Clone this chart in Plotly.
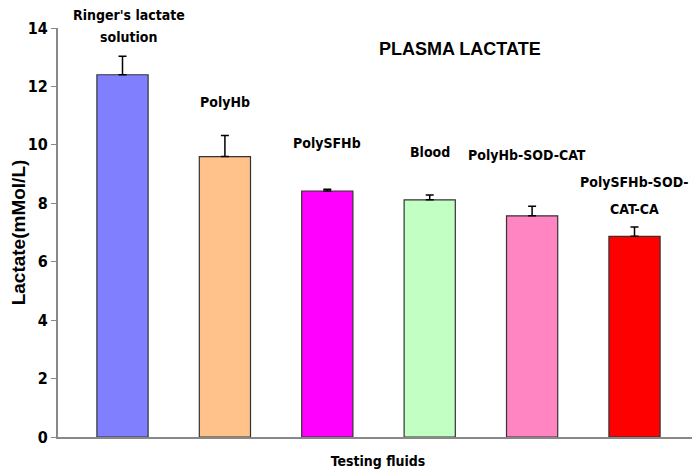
import plotly.graph_objects as go

# bar data
fluids = ["Ringer's lactate solution", "PolyHb", "PolySFHb", "Blood",
          "PolyHb-SOD-CAT", "PolySFHb-SOD-CAT-CA"]
lactate = [12.4, 9.6, 8.42, 8.12, 7.57, 6.87]
err_up = [0.63, 0.72, 0.06, 0.16, 0.33, 0.32]
colors = ["#8080FF", "#FFC28A", "#FF00FF", "#C2FFC2", "#FF85C2", "#FF0000"]

# bar labels as they are broken into lines on the chart: (bar index, text)
label_lines = [(0, "Ringer's lactate"), (0, "solution"), (1, "PolyHb"),
               (2, "PolySFHb"), (3, "Blood"), (4, "PolyHb-SOD-CAT"),
               (5, "PolySFHb-SOD-"), (5, "CAT-CA")]
label_y = [14.45, 13.69, 11.47, 10.07, 9.76, 9.65, 8.73, 7.81]  # in mMol/L
label_xshift = [6, 6, 0, 0, 0, -5, 0, 0]

y_max = 14
narrow = "DejaVu Sans Condensed, Liberation Sans Narrow, Arial Narrow, Arial"
xs = list(range(len(fluids)))

fig = go.Figure()
fig.add_trace(go.Bar(
    x=xs, y=lactate, width=0.5, hovertext=fluids,
    marker=dict(color=colors, line=dict(color="#333333", width=1.2)),
    error_y=dict(type="data", symmetric=False, array=err_up,
                 arrayminus=[0] * len(err_up), color="black",
                 thickness=1.5, width=4),
    cliponaxis=False,
))

# labels use paper coords so the top one may sit above the axis range
for (i, txt), ly, dx in zip(label_lines, label_y, label_xshift):
    fig.add_annotation(x=xs[i], y=ly / y_max, yref="paper", yanchor="middle",
                       xshift=dx, text="<b>" + txt + "</b>", showarrow=False,
                       font=dict(family=narrow, size=14, color="black"))

fig.add_annotation(x=3.30, y=13.28, text="<b>PLASMA LACTATE</b>", showarrow=False,
                   yanchor="middle",
                   font=dict(family="Liberation Sans, Arial", size=18, color="black"))

fig.update_layout(
    width=700, height=475,
    margin=dict(l=50, r=10, t=20, b=46),
    plot_bgcolor="white", paper_bgcolor="white",
    showlegend=False,
    xaxis=dict(range=[-0.63, 5.62], showticklabels=False, ticks="",
               showgrid=False, zeroline=False, showline=True, automargin=False,
               linecolor="#888888", linewidth=2,
               title=dict(text="<b>Testing fluids</b>", standoff=18,
                          font=dict(family=narrow, size=14, color="black"))),
    yaxis=dict(range=[0, y_max], dtick=2, ticks="outside", ticklen=5, automargin=False,
               tickcolor="#888888", tickwidth=1, showgrid=False, zeroline=False,
               showline=True, linecolor="#888888", linewidth=2,
               tickfont=dict(family=narrow, size=16, color="black"),
               tickprefix="<b>", ticksuffix="</b>",
               title=dict(text="<b>Lactate(mMol/L)</b>", standoff=10,
                          font=dict(family="Liberation Sans, Arial", size=19,
                                    color="black"))),
)

fig.write_html("out.html")
